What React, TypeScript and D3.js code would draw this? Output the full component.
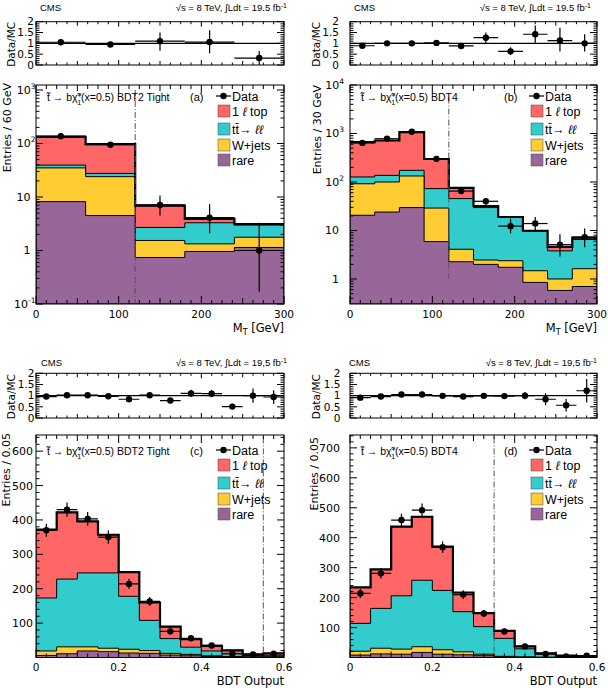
import React from 'react'
import * as d3 from 'd3'

// bin edges
const mtEdges60 = [0, 60, 120, 180, 240, 300]
const mtEdges30 = [0, 30, 60, 90, 120, 150, 180, 210, 240, 270, 300]
const bdtEdges = [0, 0.05, 0.1, 0.15, 0.2, 0.25, 0.3, 0.35, 0.4, 0.45, 0.5, 0.55, 0.6]

const keys = ['rare', 'wjets', 'ttll', 'top']
const colors: Record<string, string> = { rare: '#996699', wjets: '#ffcc33', ttll: '#33cccc', top: '#ff6666' }

// (a) MT, BDT2 Tight
const rareA = [8.2, 4.5, 0.74, 0.96, 1.14]
const wjetsA = [26.8, 19.5, 0.8, 0.37, 0.63]
const ttllA = [4.5, 3.6, 1.16, 1.97, 1.23]
const topA = [93.5, 69.4, 4.2, 0.6, 0.1]
const dataA = [137, 95, 7.1, 4.1, 1.0]
const dataLoA = [125, 85, 4.5, 2.1, 0.17]
const dataHiA = [149, 105, 10.7, 7.4, 3.3]
const ratioA = [1.05, 0.95, 1.1, 1.06, 0.32]
const ratioLoA = [0.97, 0.86, 0.66, 0.54, 0]
const ratioHiA = [1.13, 1.04, 1.5, 1.6, 0.65]

// (b) MT, BDT4
const rareB = [20.6, 24, 29.7, 5.9, 2.27, 2.0, 1.74, 0.85, 0.58, 0.7]
const wjetsB = [71.4, 76, 103.3, 23.1, 1.83, 0.46, 0.64, 0.63, 0.42, 0.93]
const ttllB = [35, 37, 41, 44, 41.4, 27.2, 16.4, 8.3, 2.8, 4.9]
const topB = [536, 581, 891, 225, 30.5, 2.3, 0.2, 0.1, 0.8, 0.6]
const dataB = [640, 780, 1090, 300, 65, 40, 12.3, 13.9, 5.1, 7.3]
const dataLoB = [615, 752, 1057, 283, 57, 34, 8.7, 9.5, 2.9, 4.5]
const dataHiB = [665, 808, 1123, 317, 74, 47, 17.6, 19, 8.4, 11]
const ratioB = [0.89, 1.0, 1.0, 1.02, 0.88, 1.26, 0.63, 1.42, 1.13, 1.0]
const ratioLoB = [0.85, 0.96, 0.97, 0.96, 0.77, 1.0, 0.46, 1.03, 0.62, 0.62]
const ratioHiB = [0.93, 1.04, 1.03, 1.08, 0.99, 1.5, 0.82, 1.83, 1.72, 1.42]

// (c) BDT output, BDT2 Tight
const rareC = [6, 11, 19, 17, 13, 12, 7, 5, 3, 2, 1, 1]
const wjetsC = [13, 20, 12, 10, 11, 8, 5, 4, 2, 1, 1, 1]
const ttllC = [154, 197, 215, 219, 154, 88, 43, 21, 14, 8, 4, 3]
const topC = [199, 194, 150, 111, 70, 52, 35, 23, 15, 10, 3, 7]
const dataC = [370, 430, 403, 350, 214, 163, 76, 56, 35, 11, 9, 11]
const dataErrC = [19, 21, 20, 19, 15, 13, 9, 7.5, 6, 3.3, 3, 3.3]
const ratioC = [0.96, 1.02, 1.02, 0.97, 0.84, 1.02, 0.78, 1.1, 1.09, 0.51, 1.0, 0.94]
const ratioErrC = [0.05, 0.05, 0.05, 0.05, 0.06, 0.08, 0.09, 0.16, 0.16, 0.08, 0.32, 0.3]

// (d) BDT output, BDT4
const rareD = [8, 12, 11, 17, 11, 9, 6, 2, 1, 0.5, 0.3, 0.3]
const wjetsD = [13, 19, 17, 19, 15, 10, 5, 2, 1, 0.5, 0.3, 0.3]
const ttllD = [93, 133, 178, 222, 198, 134, 92, 60, 27, 11, 4.4, 3.4]
const topD = [120, 130, 231, 212, 146, 64, 45, 25, 8, 2, 1, 1]
const dataD = [214, 281, 459, 492, 368, 210, 147, 87, 37, 12, 3.5, 6]
const dataErrD = [15, 17, 21, 22, 19, 14.5, 12, 9.3, 6, 3.5, 1.9, 2.4]
const ratioD = [0.91, 0.96, 1.05, 1.05, 0.99, 0.96, 0.99, 0.98, 1.0, 0.84, 0.57, 1.22]
const ratioErrD = [0.06, 0.06, 0.05, 0.05, 0.05, 0.07, 0.08, 0.1, 0.16, 0.27, 0.28, 0.53]

const ratioTicks = [0, 0.5, 1, 1.5, 2]

const SANS = 'Liberation Sans, Arial, sans-serif'
const WIDE = 'DejaVu Sans, sans-serif'

const minus = (v: number[], e: number[]) => v.map((d, i) => d - e[i])
const plus = (v: number[], e: number[]) => v.map((d, i) => d + e[i])

function Panel({ p }: { p: any }) {
  const { edges } = p
  const xDom: [number, number] = [edges[0], edges[edges.length - 1]]
  const x = d3.scaleLinear().domain(xDom).range([p.x0, p.x1])
  const y: any = p.log
    ? d3.scaleLog().domain(p.yDomain).range([p.mBot, p.mTop]).clamp(true)
    : d3.scaleLinear().domain(p.yDomain).range([p.mBot, p.mTop]).clamp(true)
  const r = d3.scaleLinear().domain([0, 2]).range([p.rBot, p.rTop]).clamp(true)

  const table = p.data.map((_: number, i: number) => ({
    rare: p.rare[i], wjets: p.wjets[i], ttll: p.ttll[i], top: p.top[i],
  }))
  const series = d3.stack<any>().keys(keys)(table)
  const step = (vals: number[]) =>
    vals.flatMap((v, i) => [[edges[i], v], [edges[i + 1], v]] as [number, number][])
  const area = d3.area<[number, number]>().x(d => x(d[0])).y0(p.mBot).y1(d => y(d[1]))
  const line = d3.line<[number, number]>().x(d => x(d[0])).y(d => y(d[1]))
  const mid = (i: number) => x((edges[i] + edges[i + 1]) / 2)
  const clipId = 'clip-' + p.id
  const rclipId = 'rclip-' + p.id

  // x ticks: major, medium (1/2), minor (1/8)
  const nSub = Math.round((xDom[1] - xDom[0]) / p.xMajor) * 8
  const xt = d3.range(0, nSub + 1).map(k => ({ v: xDom[0] + (k * p.xMajor) / 8, k }))
  const xLen = (k: number) => (k % 8 === 0 ? 8 : k % 4 === 0 ? 6 : 4)

  // y ticks
  let yMajor: number[] = []
  let yMinor: number[] = []
  if (p.log) {
    const lo = Math.floor(Math.log10(p.yDomain[0]))
    const hi = Math.ceil(Math.log10(p.yDomain[1]))
    for (let e = lo; e <= hi; e++) {
      for (let m = 1; m < 10; m++) {
        const v = m * Math.pow(10, e)
        if (v < p.yDomain[0] * 0.999 || v > p.yDomain[1] * 1.001) continue
        if (m === 1) yMajor.push(v)
        else yMinor.push(v)
      }
    }
  } else {
    yMajor = d3.range(0, p.yDomain[1] + 1e-6, 100)
    yMinor = d3.range(0, p.yDomain[1] + 1e-6, 20).filter(v => v % 100 !== 0)
  }

  const logLabel = (v: number) => {
    const e = Math.round(Math.log10(v))
    if (e === 0 || e === 1) return { plain: String(Math.round(v)) }
    return { exp: e === -1 ? '-1' : String(e) }
  }

  const rMinor = d3.range(0, 2.0001, 0.1)
  const legendRows = [0, 15, 33, 49, 64]
  const lx = p.x1 - 66
  const ly = p.mTop + 11 + p.off

  return (
    <g>
      <defs>
        <clipPath id={clipId}>
          <rect x={p.x0} y={p.mTop} width={p.x1 - p.x0} height={p.mBot - p.mTop} />
        </clipPath>
        <clipPath id={rclipId}>
          <rect x={p.x0} y={p.rTop} width={p.x1 - p.x0} height={p.rBot - p.rTop} />
        </clipPath>
      </defs>

      {/* header */}
      <text x={p.cmsX} y={p.headY} fontFamily={SANS} fontSize={9.5}>CMS</text>
      <text x={p.lumiX} y={p.headY} fontFamily={SANS} fontSize={9.5} textAnchor="end">
        {'\u221As = 8 TeV,  \u222BLdt = ' + p.lumi + ' fb'}
        <tspan dy={-3.5} fontSize={7}>-1</tspan>
      </text>

      {/* ratio pad */}
      <g clipPath={`url(#${rclipId})`}>
        <line x1={p.x0} x2={p.x1} y1={r(1)} y2={r(1)} stroke="#000" strokeWidth={1.3} />
        {p.ratio.map((v: number, i: number) => (
          <g key={i}>
            <line x1={x(edges[i])} x2={x(edges[i + 1])} y1={r(v)} y2={r(v)} stroke="#000" strokeWidth={1.2} />
            <line x1={mid(i)} x2={mid(i)} y1={r(p.ratioLo[i])} y2={r(p.ratioHi[i])} stroke="#000" strokeWidth={1.2} />
            <circle cx={mid(i)} cy={r(v)} r={3.2} fill="#000" />
          </g>
        ))}
      </g>
      <rect x={p.x0} y={p.rTop} width={p.x1 - p.x0} height={p.rBot - p.rTop} fill="none" stroke="#000" strokeWidth={1} />
      {xt.map(({ v, k }) => {
        const len = k % 8 === 0 ? 5 : k % 4 === 0 ? 4 : 2.5
        return (
          <g key={'rx' + k}>
            <line x1={x(v)} x2={x(v)} y1={p.rBot} y2={p.rBot - len} stroke="#000" />
            <line x1={x(v)} x2={x(v)} y1={p.rTop} y2={p.rTop + len} stroke="#000" />
          </g>
        )
      })}
      {rMinor.map((v, k) => {
        const len = k % 5 === 0 ? 7 : 3.5
        return (
          <g key={'ry' + k}>
            <line x1={p.x0} x2={p.x0 + len} y1={r(v)} y2={r(v)} stroke="#000" />
            <line x1={p.x1} x2={p.x1 - len} y1={r(v)} y2={r(v)} stroke="#000" />
          </g>
        )
      })}
      {ratioTicks.map(v => (
        <text key={'rl' + v} x={p.x0 - p.rGap} y={r(v)} dy="0.36em" textAnchor="end" fontFamily={WIDE} fontSize={10.5}>
          {String(v)}
        </text>
      ))}
      <text transform={`translate(${p.dmX},${(p.rTop + p.rBot) / 2 + 1}) rotate(-90)`} textAnchor="middle"
        fontFamily={WIDE} fontSize={10.5}>Data/MC</text>

      {/* main pad */}
      <g clipPath={`url(#${clipId})`}>
        {series.slice().reverse().map(s => (
          <path key={s.key} d={area(step(s.map(d => d[1])))!} fill={colors[s.key]} stroke="#000" strokeWidth={1} />
        ))}
        <path d={line(step(series[series.length - 1].map(d => d[1])))!} fill="none" stroke="#000" strokeWidth={2.2} />
        <line x1={x(p.cut)} x2={x(p.cut)} y1={y(p.cutTop)} y2={y(p.cutBot)} stroke="#555" strokeWidth={1}
          strokeDasharray="6 2 1 2" />
        {p.data.map((v: number, i: number) => (
          <g key={i}>
            <line x1={x(edges[i])} x2={x(edges[i + 1])} y1={y(v)} y2={y(v)} stroke="#000" strokeWidth={1.2} />
            <line x1={mid(i)} x2={mid(i)} y1={y(p.dataLo[i])} y2={y(p.dataHi[i])} stroke="#000" strokeWidth={1.2} />
            <circle cx={mid(i)} cy={y(v)} r={3.2} fill="#000" />
          </g>
        ))}
      </g>
      <rect x={p.x0} y={p.mTop} width={p.x1 - p.x0} height={p.mBot - p.mTop} fill="none" stroke="#000" strokeWidth={1} />
      {xt.map(({ v, k }) => (
        <g key={'mx' + k}>
          <line x1={x(v)} x2={x(v)} y1={p.mBot} y2={p.mBot - xLen(k)} stroke="#000" />
          <line x1={x(v)} x2={x(v)} y1={p.mTop} y2={p.mTop + xLen(k)} stroke="#000" />
        </g>
      ))}
      {p.xLabels.map((v: number) => (
        <text key={'xl' + v} x={x(v)} y={p.mBot + 13.5} textAnchor="middle" fontFamily={WIDE} fontSize={10.5}>
          {String(v)}
        </text>
      ))}
      <text x={p.x1} y={p.mBot + 27.5} textAnchor="end" fontFamily={WIDE} fontSize={11.5}>
        {p.xTitle}
        {p.xSub && <tspan dy={3} fontSize={8}>{p.xSub}</tspan>}
        {p.xSub && <tspan dy={-3}>{' [GeV]'}</tspan>}
      </text>
      {yMajor.map(v => (
        <g key={'my' + v}>
          <line x1={p.x0} x2={p.x0 + 7} y1={y(v)} y2={y(v)} stroke="#000" />
          <line x1={p.x1} x2={p.x1 - 7} y1={y(v)} y2={y(v)} stroke="#000" />
        </g>
      ))}
      {yMinor.map(v => (
        <g key={'ny' + v}>
          <line x1={p.x0} x2={p.x0 + 3.5} y1={y(v)} y2={y(v)} stroke="#000" />
          <line x1={p.x1} x2={p.x1 - 3.5} y1={y(v)} y2={y(v)} stroke="#000" />
        </g>
      ))}
      {yMajor.map(v => {
        if (!p.log) {
          if (v === 0) return null
          return (
            <text key={'yl' + v} x={p.x0 - p.yGap} y={y(v)} dy="0.36em" textAnchor="end" fontFamily={WIDE} fontSize={11}>
              {String(v)}
            </text>
          )
        }
        const lab = logLabel(v)
        if (lab.plain)
          return (
            <text key={'yl' + v} x={p.x0 - p.yGap - 5} y={y(v)} dy="0.36em" textAnchor="end" fontFamily={WIDE} fontSize={11}>
              {lab.plain}
            </text>
          )
        return (
          <text key={'yl' + v} x={p.x0 - p.yGap} y={y(v)} dy="0.36em" textAnchor="end" fontFamily={WIDE} fontSize={11}>
            10<tspan dy={-5} fontSize={7.5}>{lab.exp}</tspan>
          </text>
        )
      })}
      <text transform={`translate(${p.ytX},${p.ytY}) rotate(-90)`} textAnchor="end" fontFamily={WIDE} fontSize={11}>
        {p.yTitle}
      </text>

      {/* process label */}
      <text x={p.x0 + 11} y={p.mTop + 16 + p.off} fontFamily={SANS} fontSize={10.5}>
        {'t\u0303 \u2192 b\u03C7\u0303'}
        <tspan dy={-3.5} fontSize={7}>+</tspan>
        <tspan dx={-4.5} dy={7} fontSize={7}>1</tspan>
        <tspan dy={-3.5}>{'(x=0.5) ' + p.bdt}</tspan>
      </text>
      <text x={p.x0 + 154} y={p.mTop + 16 + p.off} fontFamily={SANS} fontSize={11}>{p.letter}</text>

      {/* legend */}
      <g fontFamily={SANS} fontSize={12.5}>
        <line x1={lx - 2} x2={lx + 13} y1={ly + legendRows[0]} y2={ly + legendRows[0]} stroke="#000" strokeWidth={1.2} />
        <circle cx={lx + 5.5} cy={ly + legendRows[0]} r={3.2} fill="#000" />
        <text x={lx + 14} y={ly + legendRows[0]} dy="0.36em">Data</text>
        {[
          { key: 'top', row: 1 },
          { key: 'ttll', row: 2 },
          { key: 'wjets', row: 3 },
          { key: 'rare', row: 4 },
        ].map(({ key, row }) => (
          <rect key={key} x={lx} y={ly + legendRows[row] - 6} width={12} height={12} fill={colors[key]}
            stroke="#444" strokeWidth={0.5} />
        ))}
        <text x={lx + 14} y={ly + legendRows[1]} dy="0.36em">
          1 <tspan fontStyle="italic">{'\u2113'}</tspan> top
        </text>
        <text x={lx + 14} y={ly + legendRows[2]} dy="0.36em">
          {'tt\u0304\u2192 '}<tspan fontStyle="italic">{'\u2113\u2113'}</tspan>
        </text>
        <text x={lx + 14} y={ly + legendRows[3]} dy="0.36em">W+jets</text>
        <text x={lx + 14} y={ly + legendRows[4]} dy="0.36em">rare</text>
      </g>
    </g>
  )
}

const panels = [
  {
    id: 'a', edges: mtEdges60, rare: rareA, wjets: wjetsA, ttll: ttllA, top: topA,
    data: dataA, dataLo: dataLoA, dataHi: dataHiA, ratio: ratioA, ratioLo: ratioLoA, ratioHi: ratioHiA,
    log: true, yDomain: [0.1, 1240], xMajor: 100, xLabels: [0, 100, 200, 300], xTitle: 'M', xSub: 'T',
    yTitle: 'Entries / 60 GeV', bdt: 'BDT2 Tight', letter: '(a)', lumi: '19.5',
    cut: 120, cutTop: 1000, cutBot: 0.1,
    x0: 36, x1: 284, rTop: 21.7, rBot: 65, mTop: 85, mBot: 304, off: 0,
    cmsX: 40, lumiX: 287, headY: 11, dmX: 15, rGap: 2, ytX: 11, ytY: 83, yGap: 0.5,
  },
  {
    id: 'b', edges: mtEdges30, rare: rareB, wjets: wjetsB, ttll: ttllB, top: topB,
    data: dataB, dataLo: dataLoB, dataHi: dataHiB, ratio: ratioB, ratioLo: ratioLoB, ratioHi: ratioHiB,
    log: true, yDomain: [0.305, 10000], xMajor: 100, xLabels: [0, 100, 200, 300], xTitle: 'M', xSub: 'T',
    yTitle: 'Entries / 30 GeV', bdt: 'BDT4', letter: '(b)', lumi: '19.5',
    cut: 120, cutTop: 5500, cutBot: 1,
    x0: 350, x1: 597, rTop: 21.7, rBot: 65, mTop: 85, mBot: 304, off: 0,
    cmsX: 354, lumiX: 591, headY: 11, dmX: 320, rGap: 11, ytX: 321, ytY: 85, yGap: 6,
  },
  {
    id: 'c', edges: bdtEdges, rare: rareC, wjets: wjetsC, ttll: ttllC, top: topC,
    data: dataC, dataLo: minus(dataC, dataErrC), dataHi: plus(dataC, dataErrC),
    ratio: ratioC, ratioLo: minus(ratioC, ratioErrC), ratioHi: plus(ratioC, ratioErrC),
    log: false, yDomain: [0, 647], xMajor: 0.2, xLabels: [0, 0.2, 0.4, 0.6], xTitle: 'BDT Output', xSub: null,
    yTitle: 'Entries / 0.05', bdt: 'BDT2 Tight', letter: '(c)', lumi: '19,5',
    cut: 0.55, cutTop: 640, cutBot: 0,
    x0: 36, x1: 284, rTop: 373.3, rBot: 418, mTop: 435, mBot: 657.5, off: 4,
    cmsX: 41, lumiX: 287, headY: 366, dmX: 15, rGap: 1.5, ytX: 10, ytY: 433, yGap: 3,
  },
  {
    id: 'd', edges: bdtEdges, rare: rareD, wjets: wjetsD, ttll: ttllD, top: topD,
    data: dataD, dataLo: minus(dataD, dataErrD), dataHi: plus(dataD, dataErrD),
    ratio: ratioD, ratioLo: minus(ratioD, ratioErrD), ratioHi: plus(ratioD, ratioErrD),
    log: false, yDomain: [0, 743], xMajor: 0.2, xLabels: [0, 0.2, 0.4, 0.6], xTitle: 'BDT Output', xSub: null,
    yTitle: 'Entries / 0.05', bdt: 'BDT4', letter: '(d)', lumi: '19,5',
    cut: 0.35, cutTop: 735, cutBot: 0,
    x0: 350, x1: 597, rTop: 373.3, rBot: 418, mTop: 435, mBot: 657.5, off: 4,
    cmsX: 349, lumiX: 597, headY: 366, dmX: 320, rGap: 9.5, ytX: 318, ytY: 437, yGap: 10,
  },
]

export default function App() {
  return (
    <svg width={608} height={688} style={{ position: 'absolute', left: 0, top: 0, background: '#fff' }}>
      <rect width={608} height={688} fill="#fff" />
      {panels.map(p => (
        <Panel key={p.id} p={p} />
      ))}
    </svg>
  )
}
